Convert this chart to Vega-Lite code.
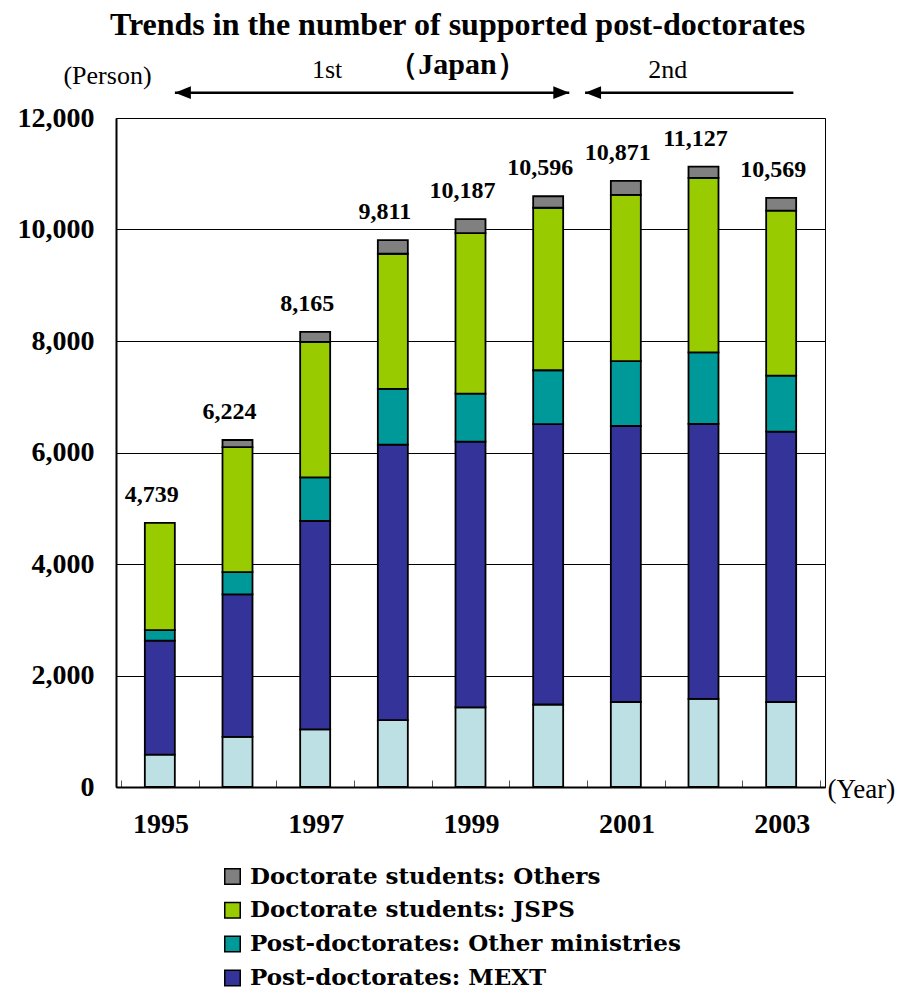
{
  "$schema": "https://vega.github.io/schema/vega-lite/v6.json",
  "width": 709,
  "height": 669,
  "autosize": {"type": "none"},
  "padding": {"left": 116, "top": 118, "right": 75, "bottom": 202},
  "background": "white",
  "config": {
    "view": {"stroke": "#000", "strokeWidth": 1},
    "font": "Liberation Serif"
  },
  "title": {
    "text": "Trends in the number of supported post-doctorates",
    "subtitle": "（Japan）",
    "font": "Liberation Serif",
    "fontSize": 32,
    "fontWeight": "bold",
    "color": "#000",
    "subtitleFont": "Liberation Serif",
    "subtitleFontSize": 30,
    "subtitleFontWeight": "bold",
    "subtitleColor": "#000",
    "subtitlePadding": 8,
    "anchor": "middle",
    "frame": "group",
    "dx": -13,
    "offset": -24
  },
  "datasets": {
    "persons": [
      {"year": 1995, "category": "Post-doctorates: JSPS", "persons": 580},
      {"year": 1995, "category": "Post-doctorates: MEXT", "persons": 2045},
      {"year": 1995, "category": "Post-doctorates: Other ministries", "persons": 190},
      {"year": 1995, "category": "Doctorate students: JSPS", "persons": 1924},
      {"year": 1996, "category": "Post-doctorates: JSPS", "persons": 900},
      {"year": 1996, "category": "Post-doctorates: MEXT", "persons": 2555},
      {"year": 1996, "category": "Post-doctorates: Other ministries", "persons": 400},
      {"year": 1996, "category": "Doctorate students: JSPS", "persons": 2240},
      {"year": 1996, "category": "Doctorate students: Others", "persons": 129},
      {"year": 1997, "category": "Post-doctorates: JSPS", "persons": 1035},
      {"year": 1997, "category": "Post-doctorates: MEXT", "persons": 3740},
      {"year": 1997, "category": "Post-doctorates: Other ministries", "persons": 780},
      {"year": 1997, "category": "Doctorate students: JSPS", "persons": 2430},
      {"year": 1997, "category": "Doctorate students: Others", "persons": 180},
      {"year": 1998, "category": "Post-doctorates: JSPS", "persons": 1200},
      {"year": 1998, "category": "Post-doctorates: MEXT", "persons": 4940},
      {"year": 1998, "category": "Post-doctorates: Other ministries", "persons": 1000},
      {"year": 1998, "category": "Doctorate students: JSPS", "persons": 2425},
      {"year": 1998, "category": "Doctorate students: Others", "persons": 246},
      {"year": 1999, "category": "Post-doctorates: JSPS", "persons": 1430},
      {"year": 1999, "category": "Post-doctorates: MEXT", "persons": 4765},
      {"year": 1999, "category": "Post-doctorates: Other ministries", "persons": 860},
      {"year": 1999, "category": "Doctorate students: JSPS", "persons": 2880},
      {"year": 1999, "category": "Doctorate students: Others", "persons": 252},
      {"year": 2000, "category": "Post-doctorates: JSPS", "persons": 1480},
      {"year": 2000, "category": "Post-doctorates: MEXT", "persons": 5030},
      {"year": 2000, "category": "Post-doctorates: Other ministries", "persons": 965},
      {"year": 2000, "category": "Doctorate students: JSPS", "persons": 2915},
      {"year": 2000, "category": "Doctorate students: Others", "persons": 206},
      {"year": 2001, "category": "Post-doctorates: JSPS", "persons": 1525},
      {"year": 2001, "category": "Post-doctorates: MEXT", "persons": 4950},
      {"year": 2001, "category": "Post-doctorates: Other ministries", "persons": 1165},
      {"year": 2001, "category": "Doctorate students: JSPS", "persons": 2980},
      {"year": 2001, "category": "Doctorate students: Others", "persons": 251},
      {"year": 2002, "category": "Post-doctorates: JSPS", "persons": 1580},
      {"year": 2002, "category": "Post-doctorates: MEXT", "persons": 4935},
      {"year": 2002, "category": "Post-doctorates: Other ministries", "persons": 1280},
      {"year": 2002, "category": "Doctorate students: JSPS", "persons": 3130},
      {"year": 2002, "category": "Doctorate students: Others", "persons": 202},
      {"year": 2003, "category": "Post-doctorates: JSPS", "persons": 1525},
      {"year": 2003, "category": "Post-doctorates: MEXT", "persons": 4850},
      {"year": 2003, "category": "Post-doctorates: Other ministries", "persons": 1005},
      {"year": 2003, "category": "Doctorate students: JSPS", "persons": 2960},
      {"year": 2003, "category": "Doctorate students: Others", "persons": 229}
    ],
    "periods": [
      {"phase": "1st", "start": 1995.194, "end": 2000.272, "label_at": 1997.153},
      {"phase": "2nd", "start": 2000.475, "end": 2003.157, "label_at": 2001.539}
    ]
  },
  "layer": [
    {
      "data": {"name": "persons"},
      "transform": [
        {
          "calculate": "indexof(['Post-doctorates: JSPS', 'Post-doctorates: MEXT', 'Post-doctorates: Other ministries', 'Doctorate students: JSPS', 'Doctorate students: Others'], datum.category)",
          "as": "tier"
        }
      ],
      "mark": {"type": "bar", "width": 30, "stroke": "#000", "strokeWidth": 1.8},
      "encoding": {
        "x": {
          "field": "year",
          "type": "quantitative",
          "title": "(Year)",
          "scale": {"domain": [1994.5, 2003.5], "nice": false, "zero": false},
          "axis": {
            "titleFont": "Liberation Serif",
            "titleFontSize": 27,
            "titleFontWeight": "normal",
            "titleColor": "#000",
            "titleX": 711,
            "titleY": 10,
            "titleAlign": "left",
            "titleBaseline": "alphabetic",
            "values": [1994.5, 1995.5, 1996.5, 1997.5, 1998.5, 1999.5, 2000.5, 2001.5, 2002.5, 2003.5],
            "labelAngle": 0,
            "labelFont": "Liberation Serif",
            "labelFontSize": 28,
            "labelFontWeight": "bold",
            "labelColor": "#000",
            "labelExpr": "(datum.value + 0.5) % 2 == 1 && datum.value < 2003 ? toString(datum.value + 0.5) : ''",
            "labelOverlap": false,
            "labelFlush": false,
            "labelBound": false,
            "labelOffset": 39.4,
            "labelPadding": 30,
            "ticks": true,
            "tickSize": -7,
            "tickColor": "#555",
            "tickWidth": 1,
            "domain": true,
            "domainColor": "#000",
            "domainWidth": 2,
            "grid": false
          }
        },
        "y": {
          "field": "persons",
          "type": "quantitative",
          "title": "(Person)",
          "stack": "zero",
          "scale": {"domain": [0, 12000], "nice": false},
          "axis": {
            "titleAngle": 0,
            "titleX": -9,
            "titleY": -35,
            "titleAlign": "center",
            "titleBaseline": "alphabetic",
            "titleFont": "Liberation Serif",
            "titleFontSize": 26,
            "titleFontWeight": "normal",
            "titleColor": "#000",
            "values": [0, 2000, 4000, 6000, 8000, 10000, 12000],
            "labelExpr": "format(datum.value, ',')",
            "labelFont": "Liberation Serif",
            "labelFontSize": 28,
            "labelFontWeight": "bold",
            "labelColor": "#000",
            "labelPadding": 22,
            "ticks": false,
            "domain": true,
            "domainColor": "#000",
            "domainWidth": 2,
            "grid": true,
            "gridColor": "#000",
            "gridWidth": 1,
            "gridOpacity": 1
          }
        },
        "color": {
          "field": "category",
          "type": "nominal",
          "scale": {
            "domain": ["Doctorate students: Others", "Doctorate students: JSPS", "Post-doctorates: Other ministries", "Post-doctorates: MEXT", "Post-doctorates: JSPS"],
            "range": ["#808080", "#99CC00", "#009999", "#333399", "#BCE0E3"]
          },
          "legend": {
            "orient": "none",
            "legendX": 105,
            "legendY": 747,
            "direction": "vertical",
            "title": null,
            "values": ["Doctorate students: Others", "Doctorate students: JSPS", "Post-doctorates: Other ministries", "Post-doctorates: MEXT"],
            "symbolType": "square",
            "symbolSize": 240,
            "symbolStrokeColor": "#000",
            "symbolStrokeWidth": 1.5,
            "symbolOpacity": 1,
            "labelFont": "DejaVu Serif",
            "labelFontWeight": "bold",
            "labelFontSize": 23,
            "labelColor": "#000",
            "labelOffset": 6,
            "labelLimit": 0,
            "rowPadding": 9.8,
            "padding": 0
          }
        },
        "order": {"field": "tier", "type": "quantitative"}
      }
    },
    {
      "data": {"name": "persons"},
      "transform": [
        {"aggregate": [{"op": "sum", "field": "persons", "as": "total"}], "groupby": ["year"]}
      ],
      "mark": {"type": "text", "font": "Liberation Serif", "fontSize": 24, "fontWeight": "bold", "color": "#000", "baseline": "alphabetic", "dy": -21, "dx": -8},
      "encoding": {
        "x": {"field": "year", "type": "quantitative", "title": "(Year)"},
        "y": {"field": "total", "type": "quantitative", "title": "(Person)"},
        "text": {"field": "total", "type": "quantitative", "format": ","}
      }
    },
    {
      "data": {"name": "periods"},
      "mark": {"type": "rule", "stroke": "#000", "strokeWidth": 2.5},
      "encoding": {
        "x": {"field": "start", "type": "quantitative", "title": "(Year)"},
        "x2": {"field": "end"},
        "y": {"datum": 12454, "type": "quantitative", "title": "(Person)"}
      }
    },
    {
      "data": {"name": "periods"},
      "mark": {"type": "point", "shape": "M 0 0 L 2 -0.8 L 2 0.8 Z", "filled": true, "color": "#000", "opacity": 1, "size": 256},
      "encoding": {
        "x": {"field": "start", "type": "quantitative", "title": "(Year)"},
        "y": {"datum": 12454, "type": "quantitative", "title": "(Person)"}
      }
    },
    {
      "data": {"name": "periods"},
      "transform": [{"filter": "datum.phase == '1st'"}],
      "mark": {"type": "point", "shape": "M 0 0 L -2 -0.8 L -2 0.8 Z", "filled": true, "color": "#000", "opacity": 1, "size": 256},
      "encoding": {
        "x": {"field": "end", "type": "quantitative", "title": "(Year)"},
        "y": {"datum": 12454, "type": "quantitative", "title": "(Person)"}
      }
    },
    {
      "data": {"name": "periods"},
      "mark": {"type": "text", "font": "Liberation Serif", "fontSize": 26, "color": "#000", "baseline": "alphabetic", "align": "center"},
      "encoding": {
        "x": {"field": "label_at", "type": "quantitative", "title": "(Year)"},
        "y": {"datum": 12717, "type": "quantitative", "title": "(Person)"},
        "text": {"field": "phase"}
      }
    }
  ]
}
